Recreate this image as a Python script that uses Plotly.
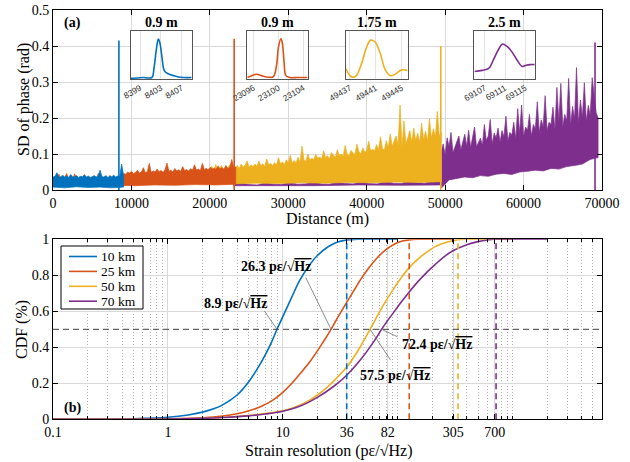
import numpy as np
import plotly.graph_objects as go

W, H = 630, 462
BLUE, RED, YEL, PUR = "#0072BD", "#D95319", "#EDB120", "#7E2F8E"
SERIF = "Liberation Serif, Times New Roman, serif"
SANS = "Liberation Sans, Arial, sans-serif"

# ---------------- Panel (a) data: SD of phase vs distance ----------------
blue_range = (0, 9000)
blue_hi = [0.036,0.038,0.048,0.035,0.037,0.041,0.036,0.039,0.035,0.043,0.037,0.036,0.040,0.035,0.038,0.037,
           0.042,0.036,0.039,0.035,0.037,0.040,0.036,0.038,0.055,0.037,0.036,0.040,0.035,0.038,0.037,0.041,
           0.036,0.039,0.037,0.072,0.040]
blue_lo = [0.008,0.006,0.009,0.007,0.008,0.006,0.008]

red_range = (0, 23300)
red_hi = [0.030,0.034,0.029,0.044,0.031,0.027,0.035,0.046,0.030,0.033,0.028,0.045,0.032,0.029,0.036,0.030,
          0.043,0.031,0.028,0.034,0.030,0.033,0.029,0.046,0.031,0.035,0.028,0.032,0.030,0.041,0.029,0.033,
          0.031,0.030,0.034,0.032,
          0.046,0.044,0.050,0.047,0.052,0.045,0.049,0.055,0.047,0.050,
          0.062,0.048,0.051,0.074,0.049,0.053,0.050,0.058,0.051,0.054,
          0.049,0.056,0.075,0.052,0.055,0.050,0.060,0.053,0.056,0.052,
          0.065,0.054,0.057,0.053,0.059,0.055,0.070,0.056,0.058,0.054,
          0.074,0.057,0.060,0.056,0.063,0.058,0.061,0.057,0.067,0.059,
          0.062,0.058,0.068,0.060,0.063,0.085,0.061,0.064]
red_lo = [0.010,0.012,0.011,0.013,0.012,0.014,0.013,0.015,0.014,0.016]

yel_range = (20000, 49500)
yel_hi = [0.058,0.066,0.052,0.071,0.055,0.060,0.068,0.053,0.062,0.057,0.070,0.054,0.061,
          0.062,0.068,0.060,0.072,0.064,0.069,0.081,0.063,0.070,0.065,
          0.072,0.066,0.080,0.068,0.073,0.065,0.086,0.070,0.074,0.068,
          0.076,0.070,0.090,0.073,0.078,0.071,0.084,0.075,0.097,0.074,
          0.082,0.076,0.091,0.078,0.122,0.084,0.080,0.100,0.083,0.088,
          0.085,0.099,0.088,0.092,0.086,0.109,0.090,0.095,0.087,0.104,
          0.095,0.090,0.112,0.096,0.100,0.093,0.124,0.099,0.096,0.110,
          0.103,0.099,0.128,0.106,0.101,0.117,0.105,0.110,0.136,0.108,
          0.114,0.108,0.126,0.112,0.148,0.116,0.111,0.137,0.118,0.156,
          0.122,0.138,0.150,0.125,0.236,0.121,0.192,0.128,0.147,0.165,
          0.134,0.172,0.137,0.158,0.132,0.186,0.140,0.163,0.136,0.198,
          0.145,0.170,0.148,0.218,0.151,0.160]
yel_lo = [0.018,0.017,0.019,0.018,0.020,0.019,0.021,0.020,0.022,0.021,0.023]

pur_under_range = (23000, 49500)
pur_under_hi = [0.016,0.019,0.015,0.014,0.020,0.016,0.015,0.021,0.016,0.017,0.022,0.017,0.016,0.022,
                0.018,0.017,0.023,0.018,0.017,0.024,0.019,0.018,0.025,0.020,0.019,0.026,0.022]
pur_under_lo = [0.012,0.013,0.012,0.014,0.013,0.014]

pur_range = (49500, 69500)
pur_hi = [0.105,0.128,0.098,0.145,0.121,0.160,0.104,0.118,0.132,0.150,
          0.112,0.138,0.155,0.122,0.166,0.118,0.142,0.175,0.120,0.135,
          0.144,0.124,0.182,0.138,0.150,0.196,0.128,0.158,0.145,0.172,
          0.133,0.165,0.148,0.205,0.137,0.160,0.152,0.188,0.142,0.226,
          0.158,0.236,0.148,0.175,0.166,0.210,0.150,0.182,0.170,0.245,
          0.160,0.195,0.176,0.262,0.165,0.188,0.182,0.230,0.168,0.285,
          0.190,0.296,0.176,0.210,0.192,0.310,0.180,0.232,0.198,0.340,
          0.185,0.250,0.202,0.298,0.190,0.235,0.208,0.312,0.262,0.215,
          0.200]
pur_lo = [0.005,0.028,0.032,0.036,0.034,0.040,0.038,0.044,0.046,0.043,0.050,
          0.052,0.055,0.053,0.060,0.058,0.065,0.068,0.072,0.085,0.090]

spike_pos = [8403, 23100, 49441, 69111]
spike_h = [0.415, 0.42, 0.40, 0.41]

# ---------------- Insets ----------------
inset_titles = ["0.9 m", "0.9 m", "1.75 m", "2.5 m"]
inset_ranges = [(8397.2, 8408.9), (23095.0, 23104.7), (49436.4, 49445.9), (69104.95, 69116.85)]
inset_ticks = [[8399, 8403, 8407], [23096, 23100, 23104], [49437, 49441, 49445], [69107, 69111, 69115]]
inset_shade = [(8401.3, 8402.2), (23099.2, 23100.1), (49438.8, 49440.55), (69107.9, 69110.4)]
in1_x = [8397.2,8398.4,8399.6,8400.6,8401.3,8401.7,8402.1,8402.5,8402.8,8403.2,8403.5,8403.8,8404.4,8405.4,8406.7,8408.9]
in1_y = [0.014,0.02,0.03,0.02,0.035,0.25,0.6,0.83,0.75,0.45,0.22,0.15,0.11,0.07,0.035,0.03]
in2_x = [23095.0,23095.7,23096.5,23097.3,23098.4,23099.2,23099.7,23100.0,23100.4,23100.6,23100.9,23101.2,23101.9,23103.0,23104.7]
in2_y = [0.036,0.07,0.1,0.07,0.036,0.05,0.29,0.66,0.84,0.77,0.37,0.07,0.03,0.03,0.03]
in3_x = [49436.4,49437.0,49437.5,49438.0,49438.8,49439.6,49440.2,49440.9,49441.7,49442.4,49443.2,49444.0,49445.0,49445.9]
in3_y = [0.21,0.07,0.035,0.07,0.32,0.67,0.81,0.77,0.53,0.21,0.07,0.1,0.19,0.18]
in4_x = [69105.0,69106.5,69107.8,69108.8,69109.8,69110.5,69111.4,69112.4,69113.4,69114.4,69115.0,69116.0,69116.85]
in4_y = [0.155,0.18,0.22,0.42,0.63,0.73,0.68,0.56,0.39,0.26,0.28,0.3,0.3]
inset_x = [in1_x, in2_x, in3_x, in4_x]
inset_y = [in1_y, in2_y, in3_y, in4_y]

# ---------------- Panel (b) data: CDF ----------------
names = ["10 km", "25 km", "50 km", "70 km"]
colors = [BLUE, RED, YEL, PUR]
b_x = [0.1,0.2,0.5,1,1.5,2,2.5,3,4,5,6,7,8,8.9,10,12,14,17,20,25,30,36,45,100]
b_y = [0,0.0003,0.003,0.011,0.024,0.04,0.058,0.08,0.135,0.205,0.28,0.355,0.43,0.5,0.57,0.68,0.77,0.855,0.91,0.96,0.985,0.997,1,1]
r_x = [0.1,0.5,1,2,3,4,5,6,7,8,10,12,14,17,20,23,26.3,30,36,42,48,56,67,80,95,110,126,150,300]
r_y = [0,0.0005,0.002,0.008,0.018,0.031,0.046,0.063,0.082,0.102,0.15,0.2,0.25,0.315,0.38,0.44,0.5,0.565,0.65,0.72,0.78,0.84,0.9,0.945,0.975,0.99,0.997,1,1]
y_x = [0.1,1,2,3,5,7,10,12,14,17,20,24,28,36,42,48,57.5,66,76,90,107,125,150,180,210,250,300,350,400,1000]
y_y = [0,0.001,0.005,0.01,0.021,0.032,0.048,0.062,0.078,0.105,0.135,0.175,0.215,0.29,0.35,0.41,0.5,0.57,0.64,0.715,0.785,0.84,0.89,0.93,0.958,0.978,0.992,0.999,1,1]
p_x = [0.1,1,2,3,5,7,10,14,20,28,36,48,58,67,72.4,80,95,107,125,150,180,210,250,300,400,500,600,720,2000]
p_y = [0,0.001,0.005,0.01,0.019,0.029,0.045,0.072,0.122,0.185,0.245,0.335,0.405,0.465,0.5,0.54,0.605,0.65,0.705,0.765,0.818,0.858,0.9,0.935,0.97,0.987,0.996,1,1]
cdf_x = [b_x, r_x, y_x, p_x]
cdf_y = [b_y, r_y, y_y, p_y]
dash_x = [36, 126, 335, 718]
medians = [8.9, 26.3, 57.5, 72.4]
xticks_b = [0.1, 1, 10, 36, 82, 305, 700]
xticks_a = [0, 10000, 20000, 30000, 40000, 50000, 60000, 70000]

# ---------------- Build figure ----------------
fig = go.Figure()

def band(rng, hi, lo, color):
    xh = np.linspace(rng[0], rng[1], len(hi))
    xl = np.linspace(rng[0], rng[1], len(lo))
    xs = np.concatenate([xh, xl[::-1]])
    ys = np.concatenate([np.array(hi), np.array(lo)[::-1]])
    fig.add_trace(go.Scatter(x=xs, y=ys, mode="lines", fill="toself", fillcolor=color,
                             line=dict(color=color, width=0.7), showlegend=False,
                             hoverinfo="skip", xaxis="x", yaxis="y"))

band(pur_under_range, pur_under_hi, pur_under_lo, PUR)
band(pur_range, pur_hi, pur_lo, PUR)
band(yel_range, yel_hi, yel_lo, YEL)
band(red_range, red_hi, red_lo, RED)
band(blue_range, blue_hi, blue_lo, BLUE)
for p, h, c in zip(spike_pos, spike_h, colors):
    fig.add_trace(go.Scatter(x=[p, p], y=[0, h], mode="lines", line=dict(color=c, width=1.6),
                             showlegend=False, xaxis="x", yaxis="y"))

# insets
for i in range(4):
    k = i + 3
    fig.add_trace(go.Scatter(x=inset_x[i], y=inset_y[i], mode="lines", line=dict(color=colors[i], width=1.6, shape="spline"),
                             showlegend=False, xaxis=f"x{k}", yaxis=f"y{k}"))

# panel b
for i in range(4):
    fig.add_trace(go.Scatter(x=cdf_x[i], y=cdf_y[i], mode="lines", name=names[i],
                             line=dict(color=colors[i], width=1.6, shape="spline", smoothing=1.0),
                             showlegend=False, xaxis="x2", yaxis="y2"))
for d, c in zip(dash_x, colors):
    fig.add_trace(go.Scatter(x=[d, d], y=[0, 1], mode="lines", line=dict(color=c, width=1.6, dash="6px,4px"),
                             showlegend=False, xaxis="x2", yaxis="y2"))

XL, XR = 53, 602
xd = [XL / W, XR / W]
ya = [1 - 190 / H, 1 - 10 / H]
yb = [1 - 419.3 / H, 1 - 239.3 / H]
tickfont = dict(family=SERIF, size=14, color="black")
common = dict(showline=True, linecolor="black", linewidth=1, mirror="allticks", ticks="inside",
              ticklen=5, tickcolor="black", zeroline=False, tickfont=tickfont, gridcolor="#d9d9d9",
              automargin=False)

LOGMAX = np.log10(6000)
minor_vals = [m * 10.0 ** e for e in range(-1, 4) for m in range(1, 10) if 0.1 < m * 10.0 ** e < 6000]

layout = dict(
    width=W, height=H, margin=dict(l=0, r=0, t=0, b=0, autoexpand=False),
    paper_bgcolor="white", plot_bgcolor="white",
    font=dict(family=SERIF, size=14, color="black"),
    xaxis=dict(domain=xd, anchor="y", range=[0, 70000], tickvals=xticks_a,
               ticktext=[str(v) for v in xticks_a], showgrid=True, **common),
    yaxis=dict(domain=ya, anchor="x", range=[0, 0.5], tickvals=[0, 0.1, 0.2, 0.3, 0.4, 0.5],
               ticktext=["0", "0.1", "0.2", "0.3", "0.4", "0.5"], showgrid=True, **common),
    xaxis2=dict(domain=xd, anchor="y2", type="log", range=[-1, LOGMAX], tickvals=xticks_b,
                ticktext=[str(v) for v in xticks_b], showgrid=True,
                minor=dict(tickvals=minor_vals, ticks="inside", ticklen=3, tickcolor="black", showgrid=True,
                           gridcolor="#b0b0b0", griddash="1px,2px", gridwidth=1),
                **common),
    yaxis2=dict(domain=yb, anchor="x2", range=[0, 1], tickvals=[0, 0.2, 0.4, 0.6, 0.8, 1],
                ticktext=["0", "0.2", "0.4", "0.6", "0.8", "1"], showgrid=True, **common),
    showlegend=False,
)

inset_dom = [(130.7, 191.7), (247.3, 307.7), (346, 407.5), (474.3, 534.7)]
yin = [1 - 79 / H, 1 - 31 / H]
shapes = []
annotations = []


def ann(text, x, y, size=14, xanchor="center", yanchor="middle", **kw):
    annotations.append(dict(text=text, xref="paper", yref="paper", x=x / W, y=1 - y / H, showarrow=False,
                            xanchor=xanchor, yanchor=yanchor, font=dict(family=SERIF, size=size, color="black"), **kw))


for i in range(4):
    k = i + 3
    layout[f"xaxis{k}"] = dict(domain=[inset_dom[i][0] / W, inset_dom[i][1] / W], anchor=f"y{k}",
                               range=list(inset_ranges[i]), tickvals=inset_ticks[i],
                               ticktext=[str(t) for t in inset_ticks[i]], tickangle=-30,
                               tickfont=dict(family=SANS, size=8.5, color="#333"), ticks="",
                               showgrid=True, gridcolor="#e3e3e3", showline=True, mirror=True,
                               linecolor="#555", linewidth=1, zeroline=False, automargin=False)
    layout[f"yaxis{k}"] = dict(domain=yin, anchor=f"x{k}", range=[0, 1], showticklabels=False, ticks="",
                               showgrid=False, showline=True, mirror=True, linecolor="#555", linewidth=1,
                               zeroline=False, automargin=False)
    shapes.append(dict(type="rect", xref=f"x{k}", yref=f"y{k} domain", x0=inset_shade[i][0], x1=inset_shade[i][1],
                       y0=0, y1=1, fillcolor="#d5dfe9", line=dict(width=0), layer="below"))
    ann(f"<b>{inset_titles[i]}</b>", (inset_dom[i][0] + inset_dom[i][1]) / 2, 22.7, size=14)

shapes.append(dict(type="line", xref="x2 domain", yref="y2", x0=0, x1=1, y0=0.5, y1=0.5,
                   line=dict(color="#404040", width=1, dash="6px,4px")))

# manual legend box for panel (b)
LX0, LX1, LY0, LY1 = 61, 143, 246, 309
shapes.append(dict(type="rect", xref="paper", yref="paper", x0=LX0 / W, x1=LX1 / W, y0=1 - LY1 / H, y1=1 - LY0 / H,
                   fillcolor="white", line=dict(color="black", width=1), layer="above"))
for j, (nm, c) in enumerate(zip(names, colors)):
    yy = 256.5 + j * 14.9
    shapes.append(dict(type="line", xref="paper", yref="paper", x0=69 / W, x1=97 / W, y0=1 - yy / H, y1=1 - yy / H,
                       line=dict(color=c, width=1.6), layer="above"))
    ann(nm, 99, yy, size=13.5, xanchor="left")

sq = "pε/√<span style='text-decoration:overline'>Hz</span>"
lab_pos = [(235, 303.3), (276, 266.7), (395, 375), (436.7, 344)]
line_start = [(263.3, 309.3), (305, 276), (391.7, 361.7), (399, 337.5)]
for m, (tx, ty), (lx, ly) in zip(medians, lab_pos, line_start):
    px = XL + (np.log10(m) + 1) / (LOGMAX + 1) * (XR - XL)
    py = 419.3 - 0.5 * 180
    ann(f"<b>{m} {sq}</b>", tx, ty, size=14)
    annotations.append(dict(text="", xref="x2", yref="y2", x=np.log10(m), y=0.5, showarrow=True,
                            arrowhead=0, arrowwidth=0.8, arrowcolor="#707070", ax=lx - px, ay=ly - py,
                            standoff=0, startstandoff=0))

ann("<b>(a)</b>", 62, 23, size=14, xanchor="left")
ann("<b>(b)</b>", 62, 408, size=14, xanchor="left")
ann("SD of phase (rad)", 24, 100, size=16, textangle=-90)
ann("Distance (m)", 327, 219, size=16)
ann("CDF (%)", 22, 330, size=16, textangle=-90)
ann("Strain resolution (pε/√Hz)", 328, 451, size=16)

layout["shapes"] = shapes
layout["annotations"] = annotations
fig.update_layout(**layout)
fig.write_html("out.html")
